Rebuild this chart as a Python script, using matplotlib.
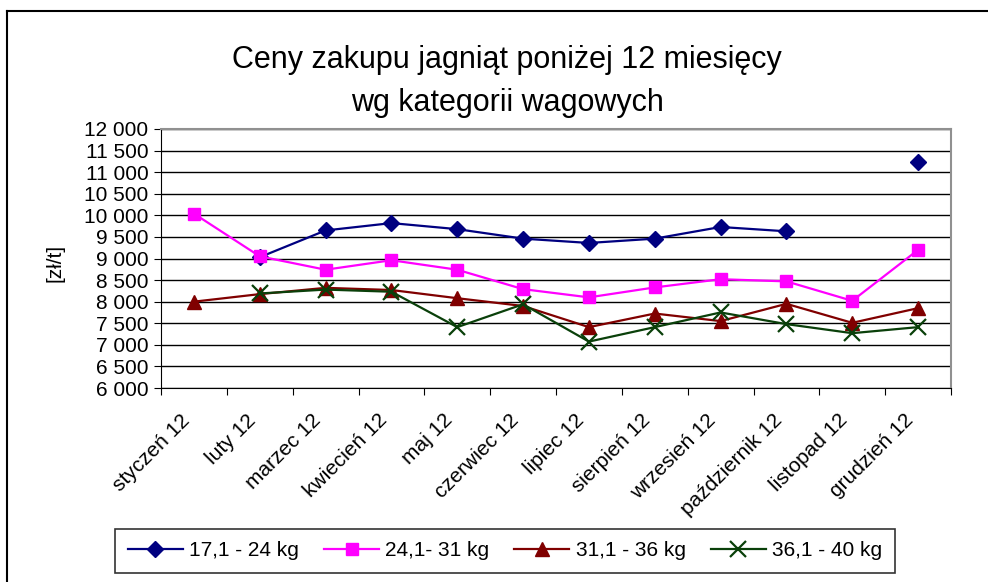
import numpy as np
import matplotlib
matplotlib.use('Agg')
import matplotlib.pyplot as plt
import matplotlib.transforms as mtransforms
from matplotlib.lines import Line2D

plt.rcParams['font.family'] = ['Liberation Sans', 'DejaVu Sans']

miesiace = ['styczeń 12', 'luty 12', 'marzec 12', 'kwiecień 12', 'maj 12', 'czerwiec 12',
            'lipiec 12', 'sierpień 12', 'wrzesień 12', 'październik 12', 'listopad 12', 'grudzień 12']

nan = np.nan
kat_17_24 = [nan, 9030, 9650, 9820, 9680, 9460, 9360, 9460, 9730, 9630, nan, 11230]
kat_24_31 = [10040, 9050, 8740, 8960, 8740, 8290, 8100, 8330, 8520, 8470, 8020, 9200]
kat_31_36 = [8000, 8175, 8320, 8270, 8080, 7900, 7410, 7725, 7550, 7950, 7510, 7850]
kat_36_40 = [nan, 8190, 8280, 8230, 7410, 7940, 7075, 7410, 7750, 7480, 7270, 7410]

etykiety = ['17,1 - 24 kg', '24,1- 31 kg', '31,1 - 36 kg', '36,1 - 40 kg']
y_ticks = np.arange(6000, 12001, 500)

W, H = 988, 582
fig = plt.figure(figsize=(W / 100, H / 100), dpi=100)
ax = fig.add_axes([161 / W, 1 - 388 / H, 790 / W, 259 / H])

x = np.arange(len(miesiace)) + 0.5
ax.plot(x, kat_17_24, color='#000080', lw=1.6, marker='D', ms=8, label=etykiety[0])
ax.plot(x, kat_24_31, color='#FF00FF', lw=1.6, marker='s', ms=9, label=etykiety[1])
ax.plot(x, kat_31_36, color='#800000', lw=1.6, marker='^', ms=10, label=etykiety[2])
ax.plot(x, kat_36_40, color='#0A400A', lw=1.6, marker='x', ms=11, mew=1.6, label=etykiety[3])

ax.set_xlim(0, 12)
ax.set_ylim(6000, 12000)
ax.set_yticks(y_ticks)
ax.set_yticklabels(['{:,}'.format(v).replace(',', ' ') for v in y_ticks], fontsize=15)
ax.yaxis.grid(True, color='black', lw=1)
ax.set_axisbelow(True)

ax.set_xticks(np.arange(0, 13))
ax.set_xticklabels([])
ax.set_xticks(x, minor=True)
ax.set_xticklabels(miesiace, minor=True, rotation=45, ha='right', rotation_mode='anchor', fontsize=15)
ax.tick_params(axis='x', which='minor', length=0, pad=12)
ax.tick_params(axis='x', which='major', length=5, direction='out')
ax.tick_params(axis='y', length=5, direction='out', pad=4)

# etykiety miesiecy lekko w lewo i w dol, jak w oryginale
przes = mtransforms.ScaledTranslation(-14 / 100, -6 / 100, fig.dpi_scale_trans)
for lab in ax.get_xticklabels(minor=True):
    lab.set_transform(lab.get_transform() + przes)

for s in ['top', 'right']:
    ax.spines[s].set_color('#909090')
    ax.spines[s].set_linewidth(1.5)
for s in ['left', 'bottom']:
    ax.spines[s].set_color('black')

fig.text(55 / W, 1 - 263 / H, '[zł/t]', rotation=90, ha='center', va='center', fontsize=15)

fig.text(507 / W, 1 - 60 / H, 'Ceny zakupu jagniąt poniżej 12 miesięcy',
         ha='center', va='center', fontsize=22)
fig.text(507 / W, 1 - 103 / H, 'wg kategorii wagowych',
         ha='center', va='center', fontsize=22)

# ramka wykresu (lewa i gorna krawedz)
fig.add_artist(Line2D([7 / W, 7 / W], [0, 1 - 11 / H], color='black', lw=1.5, transform=fig.transFigure))
fig.add_artist(Line2D([7 / W, 1], [1 - 11 / H, 1 - 11 / H], color='black', lw=1.5, transform=fig.transFigure))

leg = fig.legend(loc='center', bbox_to_anchor=(505 / W, 1 - 551 / H), ncol=4, fontsize=15,
                 frameon=True, fancybox=False, edgecolor='black', handlelength=2.64,
                 columnspacing=1.2, handletextpad=0.3, borderpad=0.6, borderaxespad=0)
leg.get_frame().set_linewidth(1.2)

fig.savefig('out.png', dpi=100)
